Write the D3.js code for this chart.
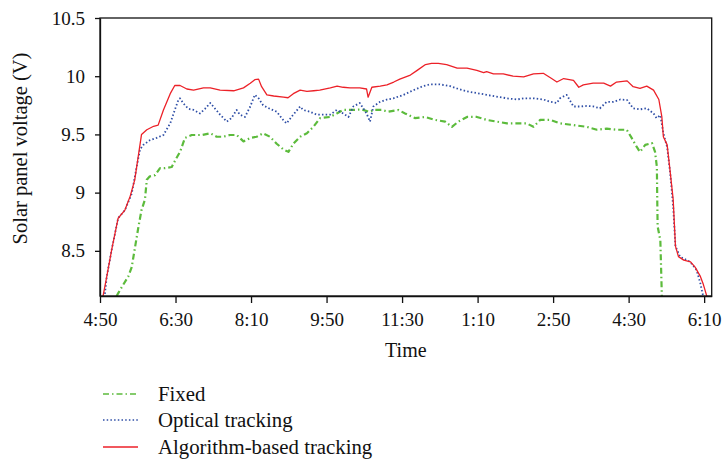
<!DOCTYPE html>
<html>
<head>
<meta charset="utf-8">
<script src="https://cdn.jsdelivr.net/npm/d3@7"></script>
<style>
  body { margin: 0; background: #fff; }
  text { font-family: "Liberation Serif", "DejaVu Serif", serif; fill: #111; }
</style>
</head>
<body>
<div id="chart"></div>
<script>
// Data: time in minutes since midnight, voltage in V
let xTicks = [290, 390, 490, 590, 690, 790, 890, 990, 1090]
let yTicks = [8.5, 9, 9.5, 10, 10.5]

let algoTime = [294, 299, 305.5, 314, 323, 330, 336, 345, 352, 361, 367, 374, 383, 389, 396, 405, 414, 427, 436,
  449, 467, 480, 489, 495, 500, 504, 511, 520, 533, 539, 546, 555, 564, 573, 581, 595, 604, 612, 621, 634,
  643, 645, 650, 661, 670, 679, 687, 701, 710, 721, 729, 738, 749, 763, 776, 789, 798, 802, 811, 824, 837,
  851, 864, 877, 888, 895, 904, 917, 924, 930, 943, 957, 966, 974, 988, 996, 1005, 1014, 1023, 1030, 1034,
  1036, 1041, 1045, 1049, 1052, 1056, 1063, 1072, 1078, 1085, 1089, 1094]
let algoVolt = [8.11, 8.28, 8.51, 8.78, 8.85, 8.97, 9.11, 9.50, 9.54, 9.57, 9.58, 9.71, 9.85, 9.92, 9.92, 9.89, 9.88, 9.90, 9.90,
  9.88, 9.875, 9.90, 9.94, 9.97, 9.975, 9.91, 9.84, 9.83, 9.82, 9.815, 9.85, 9.88, 9.87, 9.875, 9.88, 9.90, 9.915, 9.905, 9.90, 9.90,
  9.89, 9.82, 9.905, 9.915, 9.925, 9.95, 9.975, 10.01, 10.05, 10.10, 10.11, 10.11, 10.10, 10.07, 10.07, 10.05, 10.03, 10.04, 10.02, 10.02, 10.0,
  9.995, 10.02, 10.025, 9.98, 9.95, 9.98, 9.965, 9.905, 9.925, 9.94, 9.94, 9.915, 9.95, 9.96, 9.91, 9.895, 9.915, 9.88, 9.80, 9.65,
  9.48, 9.41, 9.18, 8.94, 8.54, 8.45, 8.42, 8.405, 8.36, 8.28, 8.21, 8.10]

let opticalTime = [296.5, 299, 305.5, 314, 323, 332, 338.5, 343, 347.5, 356, 365, 374, 383, 389, 394, 396, 400, 407, 414,
  422.5, 429, 436, 440, 449, 458, 464, 471, 475, 482, 489, 495, 500, 506, 515, 524, 533, 537, 546, 555, 559,
  568, 577, 586, 595, 603.5, 612, 619, 625.5, 634, 643, 647.5, 652, 661, 670, 678.5, 692, 705, 718, 727,
  740, 753.5, 762.5, 776, 789, 802, 815, 829, 842, 851, 864, 877, 886, 895, 899, 908, 917, 926, 935, 943,
  952, 961, 970, 979, 988, 996, 1005, 1014, 1023, 1027, 1032, 1036, 1041, 1045, 1049, 1052, 1058, 1071.5,
  1080, 1085, 1089]
let opticalVolt = [8.13, 8.28, 8.51, 8.78, 8.85, 8.99, 9.22, 9.37, 9.41, 9.45, 9.47, 9.495, 9.595, 9.71, 9.80, 9.81, 9.77, 9.72, 9.71,
  9.68, 9.72, 9.77, 9.74, 9.67, 9.61, 9.64, 9.71, 9.67, 9.65, 9.74, 9.84, 9.81, 9.75, 9.72, 9.695, 9.62, 9.595, 9.67, 9.74, 9.71,
  9.695, 9.67, 9.67, 9.67, 9.71, 9.68, 9.65, 9.74, 9.77, 9.68, 9.61, 9.74, 9.78, 9.80, 9.81, 9.84, 9.88, 9.915, 9.93,
  9.93, 9.915, 9.895, 9.87, 9.855, 9.84, 9.825, 9.81, 9.80, 9.81, 9.81, 9.80, 9.78, 9.77, 9.81, 9.84, 9.74, 9.74, 9.745, 9.74,
  9.725, 9.78, 9.78, 9.80, 9.795, 9.725, 9.715, 9.725, 9.68, 9.64, 9.665, 9.51, 9.39, 9.17, 8.88, 8.54, 8.45, 8.405,
  8.335, 8.22, 8.10]

let fixedTime = [312, 314, 319, 327.5, 332, 336.5, 341, 345, 349.5, 352, 356, 363, 369.5, 376, 385, 391.5, 396, 402.5, 411.5,
  425, 436, 444.5, 453, 462, 471, 480, 489, 497.5, 506, 515, 524, 533, 539.5, 546, 555, 564, 572.5, 581.5,
  594.5, 603.5, 612, 623.5, 636.5, 645.5, 654, 663, 672, 685, 694, 707, 720.5, 733.5, 747, 756, 764.5, 776,
  789, 802, 815, 829, 842, 855, 864, 873, 886, 899, 917, 934.5, 948, 961, 974.5, 987.5, 994, 1001, 1005,
  1012, 1021, 1025, 1027.4, 1027.9, 1028.4, 1032, 1034]
let fixedVolt = [8.11, 8.135, 8.19, 8.28, 8.36, 8.535, 8.71, 8.85, 8.94, 9.11, 9.14, 9.15, 9.21, 9.21, 9.22, 9.30, 9.35, 9.47, 9.495,
  9.495, 9.51, 9.48, 9.48, 9.495, 9.495, 9.44, 9.47, 9.48, 9.51, 9.48, 9.42, 9.37, 9.35, 9.42, 9.48, 9.51, 9.565, 9.64,
  9.65, 9.68, 9.71, 9.71, 9.715, 9.695, 9.71, 9.71, 9.695, 9.71, 9.68, 9.64, 9.65, 9.625, 9.61, 9.565, 9.61, 9.65,
  9.65, 9.625, 9.61, 9.595, 9.595, 9.595, 9.565, 9.625, 9.625, 9.595, 9.58, 9.565, 9.54, 9.55, 9.54, 9.54, 9.47, 9.39, 9.35,
  9.41, 9.425, 9.35, 9.22, 8.94, 8.71, 8.59, 8.11]

// Plot constants
let width = 723
let height = 460
let margin = {t: 18, r: 11.3, b: 164, l: 100}
let plotW = width - margin.l - margin.r
let plotH = height - margin.t - margin.b

let svg = d3.select('#chart')
  .append('svg')
  .attr('width', width)
  .attr('height', height)

let x = d3.scaleLinear()
  .domain([290, 1100])
  .range([margin.l, margin.l + plotW])

let y = d3.scaleLinear()
  .domain([8.112, 10.5])
  .range([margin.t + plotH, margin.t])

function fmtTime(m) {
  let h = Math.floor(m / 60) % 12
  if (h === 0) h = 12
  let mm = m % 60
  return h + ':' + (mm < 10 ? '0' : '') + mm
}

svg.append('clipPath')
  .attr('id', 'clip')
  .append('rect')
  .attr('x', margin.l)
  .attr('y', margin.t)
  .attr('width', plotW)
  .attr('height', plotH)

// Series
let series = [
  {name: 'Fixed', t: fixedTime, v: fixedVolt, color: '#5cbb3c', w: 2.2, dash: '6,3,1.5,3'},
  {name: 'Optical tracking', t: opticalTime, v: opticalVolt, color: '#2e4ea6', w: 1.8, dash: '1.5,2.2'},
  {name: 'Algorithm-based tracking', t: algoTime, v: algoVolt, color: '#ec2128', w: 1.3, dash: null}
]

let line = d3.line()
  .x(function(d) { return x(d[0]) })
  .y(function(d) { return y(d[1]) })

let lines = svg.append('g').attr('clip-path', 'url(#clip)')
series.forEach(function(s) {
  lines.append('path')
    .datum(d3.zip(s.t, s.v))
    .attr('d', line)
    .attr('fill', 'none')
    .attr('stroke', s.color)
    .attr('stroke-width', s.w)
    .attr('stroke-dasharray', s.dash)
    .attr('stroke-linejoin', 'round')
})

// Frame
svg.append('rect')
  .attr('x', margin.l)
  .attr('y', margin.t)
  .attr('width', plotW)
  .attr('height', plotH)
  .attr('fill', 'none')
  .attr('stroke', '#111')
  .attr('stroke-width', 1.3)

// Axes
let xAxis = d3.axisBottom(x)
  .tickValues(xTicks)
  .tickSize(7)
  .tickSizeOuter(0)
  .tickPadding(5)
  .tickFormat(fmtTime)

let yAxis = d3.axisLeft(y)
  .tickValues(yTicks)
  .tickSize(5)
  .tickSizeOuter(0)
  .tickPadding(10)
  .tickFormat(function(d) { return d })

let gx = svg.append('g')
  .attr('transform', `translate(0,${margin.t + plotH})`)
  .call(xAxis)
let gy = svg.append('g')
  .attr('transform', `translate(${margin.l},0)`)
  .call(yAxis)

;[gx, gy].forEach(function(g) {
  g.select('.domain').attr('stroke', '#111').attr('stroke-width', 1.3)
  g.selectAll('.tick line').attr('stroke', '#111').attr('stroke-width', 1.3)
  g.selectAll('.tick text')
    .style('font-family', '"Liberation Serif", "DejaVu Serif", serif')
    .style('font-size', '19px')
    .attr('fill', '#111')
})
gx.selectAll('.tick text').attr('dy', '0.95em')

// Axis titles
svg.append('text')
  .attr('x', x(695))
  .attr('y', 357)
  .attr('text-anchor', 'middle')
  .style('font-size', '20px')
  .text('Time')

svg.append('text')
  .attr('transform', 'translate(26.5,148.5) rotate(-90)')
  .attr('text-anchor', 'middle')
  .style('font-size', '20.5px')
  .text('Solar panel voltage (V)')

// Legend
let legendY = [394, 420, 447]
series.forEach(function(s, i) {
  svg.append('line')
    .attr('x1', 103)
    .attr('x2', 138)
    .attr('y1', legendY[i])
    .attr('y2', legendY[i])
    .attr('stroke', s.color)
    .attr('stroke-width', s.w === 2.2 ? 1.6 : 1.3)
    .attr('stroke-dasharray', s.dash)
  svg.append('text')
    .attr('x', 158)
    .attr('y', legendY[i] + 6.5)
    .style('font-size', '20.8px')
    .text(s.name)
})
</script>
</body>
</html>
